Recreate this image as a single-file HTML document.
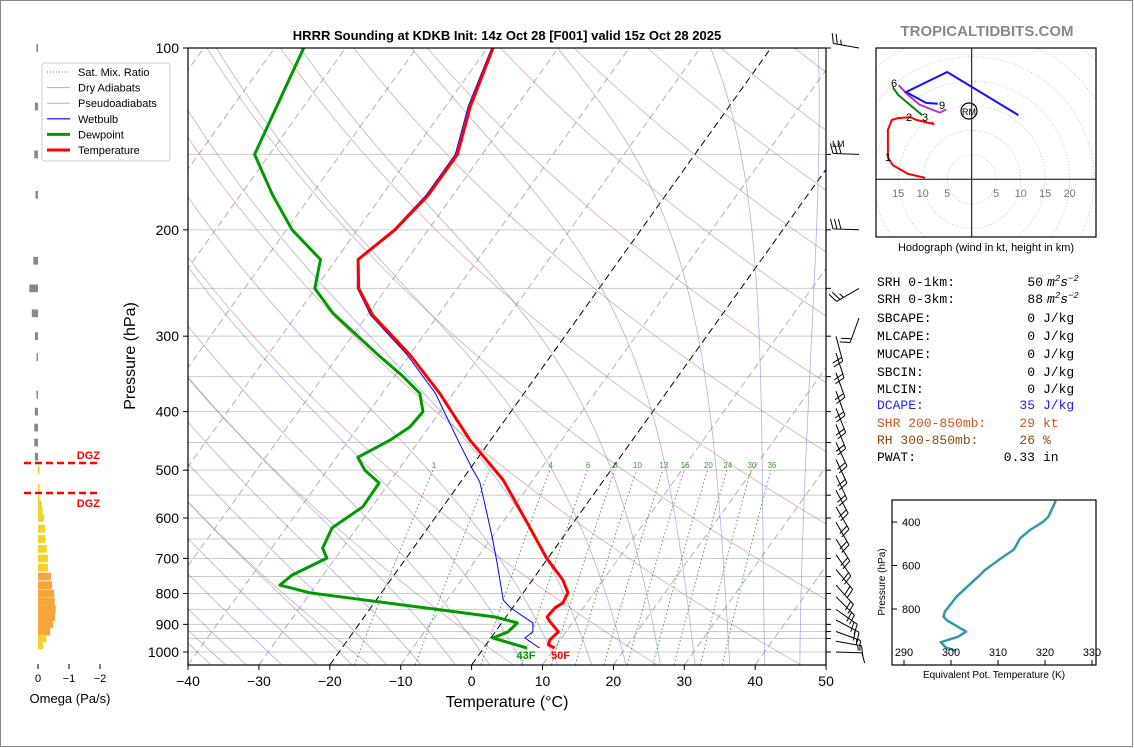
<!DOCTYPE html>
<html><head><meta charset="utf-8">
<style>
html,body{margin:0;padding:0;background:#fff;}
svg{display:block;font-family:"Liberation Sans","DejaVu Sans",sans-serif;}
.mono{font-family:"Liberation Mono","DejaVu Sans Mono",monospace;font-size:13px;}
</style></head>
<body>
<svg id="root" width="1134" height="748" viewBox="0 0 1134 748" xmlns="http://www.w3.org/2000/svg">
<rect x="0.5" y="0.5" width="1132" height="746" fill="#fff" stroke="#888"/>
<defs><clipPath id="plotclip"><rect x="188" y="48" width="638" height="617"/></clipPath>
<clipPath id="hodoclip"><rect x="876" y="48" width="220" height="189"/></clipPath>
<clipPath id="thclip"><rect x="892" y="500" width="204" height="165"/></clipPath></defs>
<text x="507" y="40" text-anchor="middle" font-size="13" font-weight="bold">HRRR Sounding at KDKB Init: 14z Oct 28 [F001] valid 15z Oct 28 2025</text>
<text x="987" y="36" text-anchor="middle" font-size="15" font-weight="bold" fill="#888">TROPICALTIDBITS.COM</text>
<g id="bg" clip-path="url(#plotclip)"></g>
<g id="marks" clip-path="url(#plotclip)"></g>
<g id="axes"></g>
<g id="barbs"></g>
<g id="omega"></g>
<g id="hodo"></g>
<g id="theta"></g>
<g id="stats" class="mono"></g>
<g id="legend"></g>
</svg>
<script>
// ---------- data ----------
const tempP = [100,125,150,175,200,224,250,277,322,373,446,519,611,699,760,798,829,845,875,891,926,955,973,985];
const tempT = [-59.2,-56.5,-53.5,-53.5,-54.7,-56.9,-53.9,-49.2,-40.0,-31.9,-22.9,-14.2,-6.5,-0.2,4.3,6.3,6.6,6.0,5.8,6.7,8.9,8.5,8.8,10.0];
const dewP = [100,150,175,200,224,250,275,322,348,373,400,424,446,476,500,525,575,623,673,699,746,775,798,875,895,926,948,985];
const dewT = [-85.9,-82.1,-75.5,-69.2,-62.2,-60.1,-55.0,-44.5,-39.1,-34.7,-32.4,-32.7,-34.2,-37.0,-34.7,-31.4,-31.3,-33.5,-32.8,-31.2,-34.4,-35.1,-30.1,-1.5,2.2,1.8,0.3,6.1];
const wbP = [100,125,150,175,200,224,250,277,322,373,446,496,523,575,645,712,820,845,895,926,948,985];
const wbT = [-59.4,-56.8,-53.8,-53.8,-54.9,-57.0,-54.1,-49.5,-40.4,-32.5,-24.6,-19.8,-17.3,-14.0,-10.0,-6.7,-2.1,-0.3,4.4,5.3,4.8,7.9];
const xTicks = [-40,-30,-20,-10,0,10,20,30,40,50];
const pTicks = [100,200,300,400,500,600,700,800,900,1000];
const pGrid = [100,150,200,250,300,350,400,450,500,550,600,650,700,750,800,850,900,925,950,1000];
const mixVals = [1,2,4,6,8,10,13,16,20,24,30,36];
const mixLabels = ["1","","4","6","8","10","13","16","20","24","30","36"];
const barbP = [100,150,200,250,280,300,320,345,370,395,420,450,480,510,540,575,610,650,690,730,775,810,850,885,925,960,1000];
const barbDir = [280,272,272,240,200,165,162,160,160,158,158,155,155,155,152,150,150,148,145,140,138,135,125,118,110,100,92];
const barbSpd = [25,30,30,25,20,20,20,20,20,20,20,20,20,20,20,20,20,20,20,20,20,20,20,20,15,15,10];
const omegaP = [100,125,150,175,225,250,275,300,325,375,400,425,450,475,500,535,558,570,585,600,625,650,675,700,725,750,775,800,825,850,875,900,925,950,975];
const omegaV = [0.03,0.1,0.12,0.08,0.15,0.28,0.2,0.1,0.03,0.04,0.1,0.12,0.12,0.1,0.05,0.01,0.04,0.12,0.15,0.19,0.23,0.24,0.28,0.32,0.32,0.42,0.45,0.52,0.54,0.57,0.55,0.49,0.39,0.27,0.16];
const hodoRedU = [-9.5,-13,-16.1,-17.1,-17.1,-16.3,-15,-12.6,-11.2,-7.9,-8.1];
const hodoRedV = [0.3,1.1,2.9,4.5,10.1,12.1,12.5,12.7,12.1,11.3,11.7];
const hodoGreenU = [-16.1,-15,-10.1];
const hodoGreenV = [18.8,17.2,13.1];
const hodoPurpleU = [-14.9,-13,-10.6,-6.5,-5.2];
const hodoPurpleV = [19.2,17.2,15.2,13.6,14.3];
const hodoBlueU = [-6.9,-9.3,-13.4,-5,9.5];
const hodoBlueV = [15.4,15.6,17.8,21.9,13.1];
const thetaE = [322.3,320.7,319.6,316.8,314.7,313.4,310.1,307.2,305.8,301.2,298.7,298.4,299.2,303.2,301.6,297.8,298.9,301.1];
const thetaP = [303,376,399,437,475,526,575,621,651,743,812,835,853,904,927,953,977,992];
const thetaTicks = [290,300,310,320,330];
const thetaPTicks = [400,600,800];

// ---------- helpers ----------
const NS="http://www.w3.org/2000/svg";
function mk(tag,parent,attrs){const e=document.createElementNS(NS,tag);for(const k in attrs)e.setAttribute(k,attrs[k]);parent.appendChild(e);return e;}
const Y0=48,SPAN=604,BOT=665,LEFT=188,PXC=7.09,SKEW=0.715;
function yP(p){return Y0+Math.log10(p/100)*SPAN;}
function xT(T,p){return LEFT+(T+40)*PXC+(BOT-yP(p))*SKEW;}
function pathFrom(ps,ts){return ps.map((p,i)=>(i?'L':'M')+xT(ts[i],p).toFixed(1)+','+yP(p).toFixed(1)).join(' ');}
const bg=document.getElementById('bg'),marks=document.getElementById('marks'),axes=document.getElementById('axes');

// grid
pGrid.forEach(p=>{const l=mk('line',bg,{x1:188,x2:826,y1:yP(p),y2:yP(p),stroke:'#ccc','stroke-width':1});

});
// isotherms
for(let T=-130;T<=50;T+=10){const blk=(T===0||T===-20);const l=mk('line',bg,{x1:xT(T,1050),y1:yP(1050),x2:xT(T,100),y2:yP(100),stroke:blk?'#000':'#aaa','stroke-width':blk?1:0.9,'stroke-dasharray':'7,4'});

}
// dry adiabats
for(let th=-38;th<=262;th+=20){let d='';for(let p=1050;p>=100;p-=10){const T=(th+273.15)*Math.pow(p/1000,0.2857)-273.15;d+=(d?'L':'M')+xT(T,p).toFixed(1)+','+yP(p).toFixed(1);}
const l=mk('path',bg,{d:d,fill:'none',stroke:'#c86464','stroke-opacity':0.55,'stroke-width':0.8});

}
// moist adiabats
function es(Tc){return 6.112*Math.exp(17.67*Tc/(Tc+243.5));}
function gam(T,p){const Tk=T+273.15,e=es(T),rs=0.622*e/(p-e),Rd=287,Lv=2.5e6,cp=1005;return (Rd*Tk+Lv*rs)/(cp+Lv*Lv*rs*0.622/(Rd*Tk*Tk))/p;}
for(let t0=-45;t0<=45;t0+=5){let T=t0,pts=[];for(let p=1000;p<=1050;p+=5){pts.push([p,T]);T+=gam(T,p)*5;}
pts.reverse();T=t0;for(let p=1000;p>=100;p-=5){if(p<1000)pts.push([p,T]);T-=gam(T,p)*5;}
const d=pts.map((q,i)=>(i?'L':'M')+xT(q[1],q[0]).toFixed(1)+','+yP(q[0]).toFixed(1)).join(' ');
const l=mk('path',bg,{d:d,fill:'none',stroke:'#7070d0','stroke-opacity':0.55,'stroke-width':0.8});

}
// mixing ratio
mixVals.forEach((w,i)=>{let d='';for(let p=1050;p>=500;p-=10){const e=w*p/(622+w),a=Math.log(e/6.112),Td=243.5*a/(17.67-a);d+=(d?'L':'M')+xT(Td,p).toFixed(1)+','+yP(p).toFixed(1);}
const l=mk('path',bg,{d:d,fill:'none',stroke:'#3a9a3a','stroke-width':0.9,'stroke-dasharray':'1.5,2.5'});


if(mixLabels[i]){const e=w*500/(622+w),a=Math.log(e/6.112),Td=243.5*a/(17.67-a);
const t=mk('text',bg,{x:xT(Td,500)+1,y:yP(500)-2,'font-size':8,fill:'#3a9a3a','text-anchor':'middle'});t.textContent=mixLabels[i];

}});

// profiles
let e1=mk('path',marks,{d:pathFrom(wbP,wbT),fill:'none',stroke:'#0000ff','stroke-width':1});


let e2=mk('path',marks,{d:pathFrom(dewP,dewT),fill:'none',stroke:'#009900','stroke-width':3,'stroke-linejoin':'round'});


let e3=mk('path',marks,{d:pathFrom(tempP,tempT),fill:'none',stroke:'#ff0000','stroke-width':3,'stroke-linejoin':'round'});


const lt=tempT.length-1,ld=dewT.length-1;
let t1=mk('text',marks,{x:xT(tempT[lt],tempP[lt])+6,y:yP(tempP[lt])+11,'font-size':11,'font-weight':'bold',fill:'#ff0000','text-anchor':'middle'});t1.textContent=Math.round(tempT[lt]*9/5+32)+'F';


let t2=mk('text',marks,{x:xT(dewT[ld],dewP[ld])-1,y:yP(dewP[ld])+11,'font-size':11,'font-weight':'bold',fill:'#009900','text-anchor':'middle'});t2.textContent=Math.round(dewT[ld]*9/5+32)+'F';



// axes
let fr=mk('rect',axes,{x:188,y:48,width:638,height:617,fill:'none',stroke:'#000','stroke-width':1.2});


pGrid.forEach(p=>{let a=mk('line',axes,{x1:826,x2:831,y1:yP(p),y2:yP(p),stroke:'#000'});});
pTicks.forEach(p=>{let a=mk('line',axes,{x1:183,x2:188,y1:yP(p),y2:yP(p),stroke:'#000'});


let t=mk('text',axes,{x:179,y:yP(p)+5,'font-size':14,'text-anchor':'end'});t.textContent=p;

});
xTicks.forEach(T=>{const x=LEFT+(T+40)*PXC;let a=mk('line',axes,{x1:x,x2:x,y1:665,y2:670,stroke:'#000'});


let t=mk('text',axes,{x:x,y:686,'font-size':14,'text-anchor':'middle'});t.textContent=(T<0?'\u2212'+(-T):T);

});
let xl=mk('text',axes,{x:507,y:707,'font-size':16,'text-anchor':'middle'});xl.textContent='Temperature (\u00b0C)';


let yl=mk('text',axes,{x:0,y:0,'font-size':16,'text-anchor':'middle',transform:'translate(135,356) rotate(-90)'});yl.textContent='Pressure (hPa)';



// wind barbs
const bgp=document.getElementById('barbs');
barbP.forEach((p,i)=>{const a=barbDir[i]*Math.PI/180,L=26;const bx=barbDir[i]>180?859:836,by=yP(p);
const dx=Math.sin(a),dy=-Math.cos(a);const tx=bx+dx*L,ty=by+dy*L;
let d='M'+bx.toFixed(1)+','+by.toFixed(1)+'L'+tx.toFixed(1)+','+ty.toFixed(1);
let s=barbSpd[i],k=0;const px=-dy,py=dx;
while(s>=10){const ox=tx-dx*k*4,oy=ty-dy*k*4;d+='M'+ox.toFixed(1)+','+oy.toFixed(1)+'l'+(px*10+dx*3).toFixed(1)+','+(py*10+dy*3).toFixed(1);s-=10;k++;}
if(s>=5){const ox=tx-dx*k*4,oy=ty-dy*k*4;d+='M'+ox.toFixed(1)+','+oy.toFixed(1)+'l'+(px*5+dx*1.5).toFixed(1)+','+(py*5+dy*1.5).toFixed(1);}
const g=mk('path',bgp,{d:d,fill:'none',stroke:'#000','stroke-width':1});

});
let lmk=mk('text',bgp,{x:832,y:147,'font-size':9});lmk.textContent='LM';

// omega panel
const og=document.getElementById('omega');const OX=38,OS=31;
omegaP.forEach((p,i)=>{const v=omegaV[i],y=yP(p),w=Math.max(1.5,v*OS),h=Math.min(8,Math.max(3,(yP(p*1.03)-y)));
const col=p<500?'#888':(v>0.35?'#f6a43c':'#f5d22a');
const r=mk('rect',og,{x:p<500?OX-w:OX,y:y-h/2,width:w,height:h,fill:col});

});
[[463,459],[493,507]].forEach(q=>{let l=mk('line',og,{x1:24,x2:99,y1:q[0],y2:q[0],stroke:'#ff0000','stroke-width':2.5,'stroke-dasharray':'7,4'});


let t=mk('text',og,{x:100,y:q[1],'font-size':11,'font-weight':'bold',fill:'#ff0000','text-anchor':'end'});t.textContent='DGZ';

});
[0,-1,-2].forEach(v=>{const x=OX-v*OS;let l=mk('line',og,{x1:x,x2:x,y1:664,y2:669,stroke:'#000'});


let t=mk('text',og,{x:x,y:682,'font-size':11,'text-anchor':'middle'});t.textContent=v===0?'0':'\u2212'+(-v);

});
let ot=mk('text',og,{x:70,y:703,'font-size':13,'text-anchor':'middle'});ot.textContent='Omega (Pa/s)';



// hodograph
const hg=document.getElementById('hodo');const HX=971.7,HY=179.3,HS=4.9;
let hb=mk('g',hg,{'clip-path':'url(#hodoclip)'});
for(let r=5;r<=40;r+=5){let c=mk('circle',hb,{cx:HX,cy:HY,r:r*HS,fill:'none',stroke:'#bbb','stroke-width':0.8,'stroke-dasharray':'1,2'});

}
let ha=mk('path',hb,{d:`M876,${HY}H1096M${HX},48V237`,stroke:'#000','stroke-width':1});


[-15,-10,-5,5,10,15,20].forEach(v=>{let t=mk('text',hg,{x:HX+v*HS,y:197,'font-size':11,fill:'#777','text-anchor':'middle'});t.textContent=Math.abs(v);

});
function hline(U,V,col,name){const d=U.map((u,i)=>(i?'L':'M')+(HX+u*HS).toFixed(1)+','+(HY-V[i]*HS).toFixed(1)).join('');
const e=mk('path',hb,{d:d,fill:'none',stroke:col,'stroke-width':2});

}
hline(hodoRedU,hodoRedV,'#ff0000','hodograph-0-3km');
hline(hodoGreenU,hodoGreenV,'#008800','hodograph-3-6km');
hline(hodoPurpleU,hodoPurpleV,'#bb33cc','hodograph-6-9km');
hline(hodoBlueU,hodoBlueV,'#1111ff','hodograph-9km-plus');
[['1',888,161],['2',909,121],['3',925,121],['6',894,87],['9',942,109]].forEach(q=>{let t=mk('text',hg,{x:q[1],y:q[2],'font-size':11,'text-anchor':'middle'});t.textContent=q[0];

});
let rc=mk('circle',hg,{cx:969,cy:111,r:8,fill:'none',stroke:'#000','stroke-width':1.2});
let rt=mk('text',hg,{x:969,y:115,'font-size':9,'text-anchor':'middle'});rt.textContent='RM';
let hr=mk('rect',hg,{x:876,y:48,width:220,height:189,fill:'none',stroke:'#000','stroke-width':1.2});
let hc=mk('text',hg,{x:986,y:251,'font-size':11,'text-anchor':'middle'});hc.textContent='Hodograph (wind in kt, height in km)';



// theta-e panel
const tg=document.getElementById('theta');
function thx(v){return 904+(v-290)*4.7;} function thy(p){return 522+(p-400)*0.2175;}
let tc=mk('path',tg,{'clip-path':'url(#thclip)',d:thetaE.map((v,i)=>(i?'L':'M')+thx(v).toFixed(1)+','+thy(thetaP[i]).toFixed(1)).join(''),fill:'none',stroke:'#3399aa','stroke-width':2.5,'stroke-linejoin':'round'});


let tr=mk('rect',tg,{x:892,y:500,width:204,height:165,fill:'none',stroke:'#000','stroke-width':1.2});
thetaTicks.forEach(v=>{let l=mk('line',tg,{x1:thx(v),x2:thx(v),y1:660,y2:665,stroke:'#000'});
let t=mk('text',tg,{x:thx(v),y:656,'font-size':11,'text-anchor':'middle'});t.textContent=v;});
thetaPTicks.forEach(p=>{let l=mk('line',tg,{x1:892,x2:897,y1:thy(p),y2:thy(p),stroke:'#000'});
let t=mk('text',tg,{x:902,y:thy(p)+4,'font-size':11});t.textContent=p;});
let tx1=mk('text',tg,{x:994,y:678,'font-size':10,'text-anchor':'middle'});tx1.textContent='Equivalent Pot. Temperature (K)';
let ty1=mk('text',tg,{x:0,y:0,'font-size':10,'text-anchor':'middle',transform:'translate(885,582) rotate(-90)'});ty1.textContent='Pressure (hPa)';

// stats
const sg=document.getElementById('stats');
const rows=[['SRH 0-1km:','50','m2','#000',286],['SRH 0-3km:','88','m2','#000',303],['SBCAPE:','0','J/kg','#000',322],['MLCAPE:','0','J/kg','#000',340],['MUCAPE:','0','J/kg','#000',358],['SBCIN:','0','J/kg','#000',376],['MLCIN:','0','J/kg','#000',393],['DCAPE:','35','J/kg','#2222ee',409],['SHR 200-850mb:','29','kt','#cc5522',427],['RH 300-850mb:','26','%','#8b4a10',444],['PWAT:','0.33','in','#000',461]];
rows.forEach(r=>{const g=mk('g',sg,{fill:r[3]});


let a=mk('text',g,{x:877,y:r[4]});a.textContent=r[0];
let b=mk('text',g,{x:r[2]==='m2'?1043:1035,y:r[4],'text-anchor':'end'});b.textContent=r[1];
if(r[2]==='m2'){let c=mk('text',g,{x:1047,y:r[4],'font-style':'italic'});c.innerHTML='m<tspan dy="-5" font-size="9">2</tspan><tspan dy="5">s</tspan><tspan dy="-5" font-size="9">\u22122</tspan>';}
else{let c=mk('text',g,{x:1043,y:r[4]});c.textContent=r[2];}});

// legend
const lg=document.getElementById('legend');
let lb=mk('rect',lg,{x:42,y:63,width:128,height:98,rx:3,fill:'#fff',stroke:'#ccc'});
[['Sat. Mix. Ratio','#3a9a3a',1,'1,2'],['Dry Adiabats','#d99',1,''],['Pseudoadiabats','#aaf',1,''],['Wetbulb','#0000ff',1.2,''],['Dewpoint','#009900',3,''],['Temperature','#ff0000',3,'']].forEach((q,i)=>{const y=72+i*15.6;
const g=mk('g',lg,{});


mk('line',g,{x1:47,x2:70,y1:y,y2:y,stroke:q[1],'stroke-width':q[2],'stroke-dasharray':q[3]});
let t=mk('text',g,{x:78,y:y+4,'font-size':11});t.textContent=q[0];});
</script>
</body></html>
